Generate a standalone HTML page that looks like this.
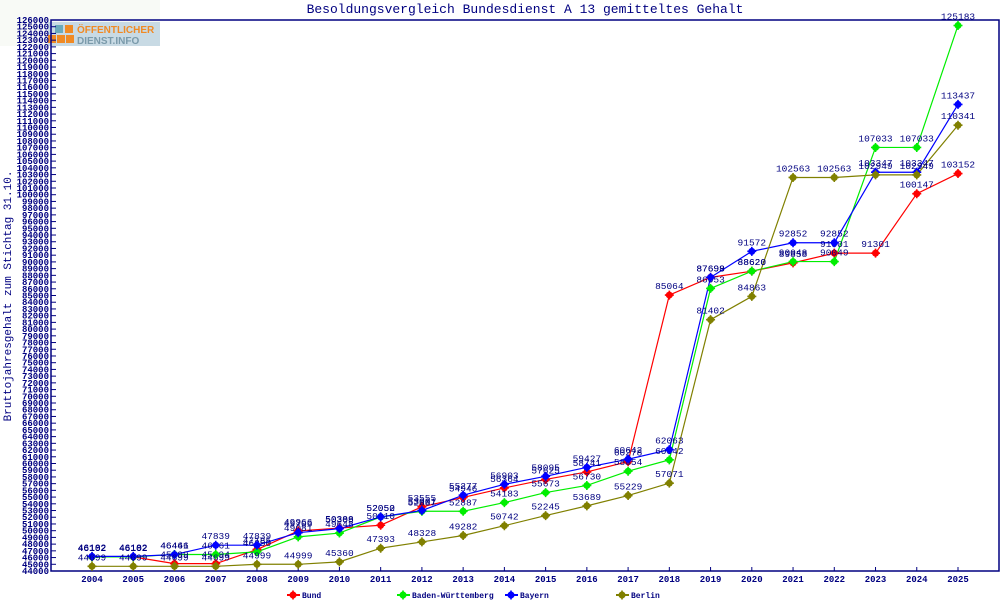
<!DOCTYPE html>
<html><head><meta charset="utf-8"><style>
html,body{margin:0;padding:0;background:#fff;}
svg{display:block;font-family:"Liberation Mono",monospace;}
</style></head><body>
<svg id="c" width="1000" height="600" xmlns="http://www.w3.org/2000/svg"></svg>
<script>
const S=document.getElementById('c');let h='';
const X0=92,DX=(958-92)/21,Y=v=>20+(126000-v)*551/82000;
h+='<rect x="0" y="0" width="160" height="46" fill="#f8faf6"/>';
h+='<rect x="48" y="22" width="112" height="24" fill="#c8dae4"/>';
h+='<rect x="55" y="25" width="8" height="8" fill="#6aaabb"/><rect x="65" y="25" width="8" height="8" fill="#f08a24"/><rect x="48" y="35" width="8" height="8" fill="#f08a24"/><rect x="57" y="35" width="8" height="8" fill="#f08a24"/><rect x="66" y="35" width="8" height="8" fill="#f08a24"/>';
h+='<text x="77" y="33" font-family="Liberation Sans,sans-serif" font-weight="bold" font-size="10" fill="#f08a24">ÖFFENTLICHER</text>';
h+='<text x="77" y="44" font-family="Liberation Sans,sans-serif" font-weight="bold" font-size="10" fill="#7a9aaa">DIENST.INFO</text>';
h+='<text x="525" y="13" text-anchor="middle" font-size="13" fill="#000080">Besoldungsvergleich Bundesdienst A 13 gemitteltes Gehalt</text>';
h+='<text transform="translate(11,296) rotate(-90)" text-anchor="middle" font-size="11" fill="#000080">Bruttojahresgehalt zum Stichtag 31.10.</text>';
h+='<path d="M51 20H999V571H51Z" fill="none" stroke="#000080" stroke-width="1.5"/>';
for(let v=44000;v<=126000;v+=1000){const y=Y(v);h+=`<line x1="51" x2="56" y1="${y}" y2="${y}" stroke="#000080"/><text x="49" y="${y+3}" text-anchor="end" font-size="9" font-weight="bold" fill="#000080">${v}</text>`;}
for(let i=0;i<22;i++){const x=X0+i*DX;h+=`<line x1="${x}" x2="${x}" y1="567" y2="571" stroke="#000080"/><text x="${x}" y="582" text-anchor="middle" font-size="9" font-weight="bold" fill="#000080">${2004+i}</text>`;}
const D=[
['#ff0000',[46102,46102,45099,45094,47185,49966,50388,50810,53555,54946,56364,57625,58741,60278,85064,87698,88620,89858,91301,91301,100147,103152]],
['#00ee00',[46102,46102,46461,46461,46850,49081,49648,52052,52887,52887,54183,55673,56730,58854,60542,86053,88620,90048,90049,107033,107033,125183]],
['#0000ff',[46182,46182,46446,47839,47839,49706,50309,52050,53001,55277,56903,58095,59427,60642,62063,87699,91572,92852,92852,103347,103347,113437]],
['#808000',[44699,44699,44699,44699,44999,44999,45360,47393,48328,49282,50742,52245,53689,55229,57071,81402,84863,102563,102563,102949,102949,110341]]];
const mk=(x,y,c)=>`<circle cx="${x}" cy="${y}" r="3.5" fill="${c}"/><path d="M${x-4.5} ${y}H${x+4.5}M${x} ${y-4.5}V${y+4.5}" stroke="${c}" stroke-width="1.6"/>`;
D.forEach(([c,d])=>{h+=`<polyline fill="none" stroke="${c}" stroke-width="1.2" points="${d.map((v,i)=>(X0+i*DX)+','+Y(v)).join(' ')}"/>`;});
D.forEach(([c,d])=>{d.forEach((v,i)=>{const x=X0+i*DX,y=Y(v);h+=mk(x,y,c)+`<text x="${x}" y="${y-6}" text-anchor="middle" font-size="9.5" fill="#000080">${v}</text>`;});});
const L=[['#ff0000',287,'Bund'],['#00ee00',397,'Baden-Württemberg'],['#0000ff',505,'Bayern'],['#808000',616,'Berlin']];
L.forEach(([c,x,t])=>{h+=`<line x1="${x}" x2="${x+13}" y1="595" y2="595" stroke="${c}" stroke-width="2"/>`+mk(x+6,595,c)+`<text x="${x+15}" y="598" font-size="8" font-weight="bold" fill="#000080">${t}</text>`;});
S.innerHTML=h;
</script>
</body></html>
